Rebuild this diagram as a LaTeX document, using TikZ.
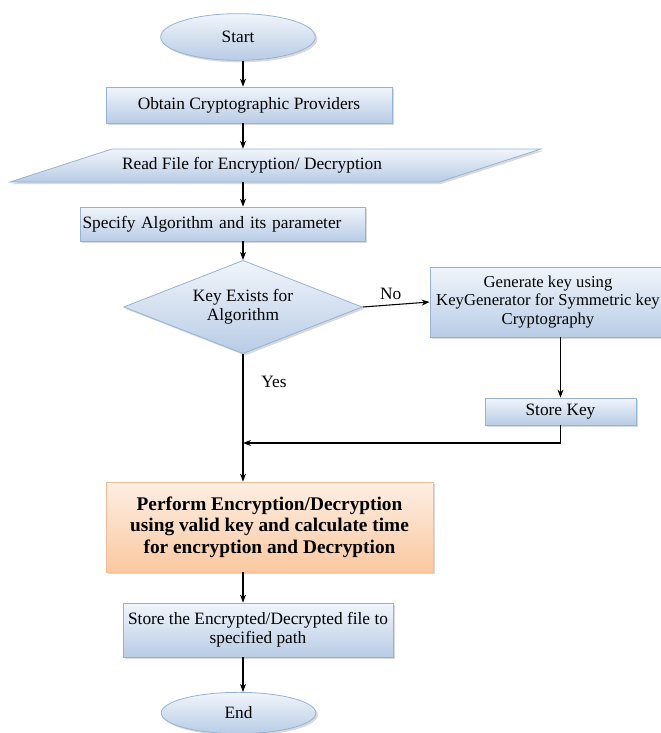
\documentclass[tikz,border=0pt]{standalone}
\usepackage{fontspec}
\setmainfont{Liberation Serif}
\usetikzlibrary{shapes.geometric, arrows.meta, positioning, shadows}
\definecolor{boxtop}{RGB}{241,245,251}
\definecolor{boxbot}{RGB}{184,204,229}
\definecolor{boxline}{RGB}{150,178,212}
\definecolor{orgtop}{RGB}{253,239,228}
\definecolor{orgbot}{RGB}{250,200,160}
\definecolor{orgline}{RGB}{244,188,148}

\begin{document}
\begin{tikzpicture}[x=0.75pt, y=-0.75pt, font=\fontsize{13}{14}\selectfont,
        paint/.style={draw=boxline, line width=0.6pt, top color=boxtop, bottom color=boxbot,
                drop shadow={shadow xshift=1.5pt, shadow yshift=-1.5pt, opacity=0.3}},
        box/.style={rectangle, paint, inner sep=2pt, align=center},
        term/.style={box, ellipse, minimum width=116pt, minimum height=35pt},
        decision/.style={box, diamond, aspect=2.56, minimum width=179pt, minimum height=70pt, inner sep=0pt},
        hot/.style={box, draw=orgline, top color=orgtop, bottom color=orgbot},
        arr/.style={-{Stealth[length=6pt,width=4.5pt]}, line width=0.8pt}]
        \useasboundingbox (0,0) rectangle (661,733);
        \node[term] (start) at (238,37) {Start};
        \node[box, minimum width=214.5pt, minimum height=27pt] (obtain) at (249,105) {Obtain Cryptographic Providers};
        % input/output parallelogram
        \path[paint] (10,182) -- (112,149) -- (541,149) -- (439,182) -- cycle;
        \node[inner sep=0pt, minimum height=24.75pt] (read) at (252,165.5) {Read File for Encryption/ Decryption};
        \node[box, minimum width=213.75pt, minimum height=25.5pt, text width=210pt, align=left, inner xsep=1.5pt] (spec) at (222.5,224) {Specify Algorithm and its parameter};
        \node[decision] (key) at (243,307) {Key Exists for\\Algorithm};
        \node[box, minimum width=177pt, minimum height=52.5pt, font=\fontsize{12.5}{14}\selectfont] (gen) at (548,302) {Generate key using\\KeyGenerator for Symmetric key\\Cryptography};
        \node[box, minimum width=113.25pt, minimum height=20.25pt] (keystore) at (560.5,411.5) {Store Key};
        \node[hot, minimum width=245.25pt, minimum height=67.5pt, font=\fontsize{14.5}{16.2}\selectfont\bfseries] (perform) at (269.5,527) {Perform Encryption/Decryption\\using valid key and calculate time\\for encryption and Decryption};
        \node[box, minimum width=202.5pt, minimum height=40.5pt] (save) at (258,630) {Store the Encrypted/Decrypted file to\\specified path};
        \node[term, minimum height=31pt] (stop) at (238.5,713) {End};
        \coordinate (join) at (243,443);
        \path[arr]
                (start.south -| key) edge (key |- obtain.north)
                (obtain.south -| key) edge (key |- read.north)
                (read.south -| key) edge (key |- spec.north)
                (spec.south -| key) edge (key.north)
                (key.east) edge node[above, pos=0.42] {No} (gen.west)
                (keystore.north |- gen.south) edge (keystore.north)
                (key.south) edge node[right, pos=0.22, xshift=10pt] {Yes} (perform.north -| key)
                (perform.south -| key) edge (key |- save.north)
                (save.south -| key) edge (key |- stop.north);
        \draw[arr] (keystore.south) |- (join);
\end{tikzpicture}
\end{document}
